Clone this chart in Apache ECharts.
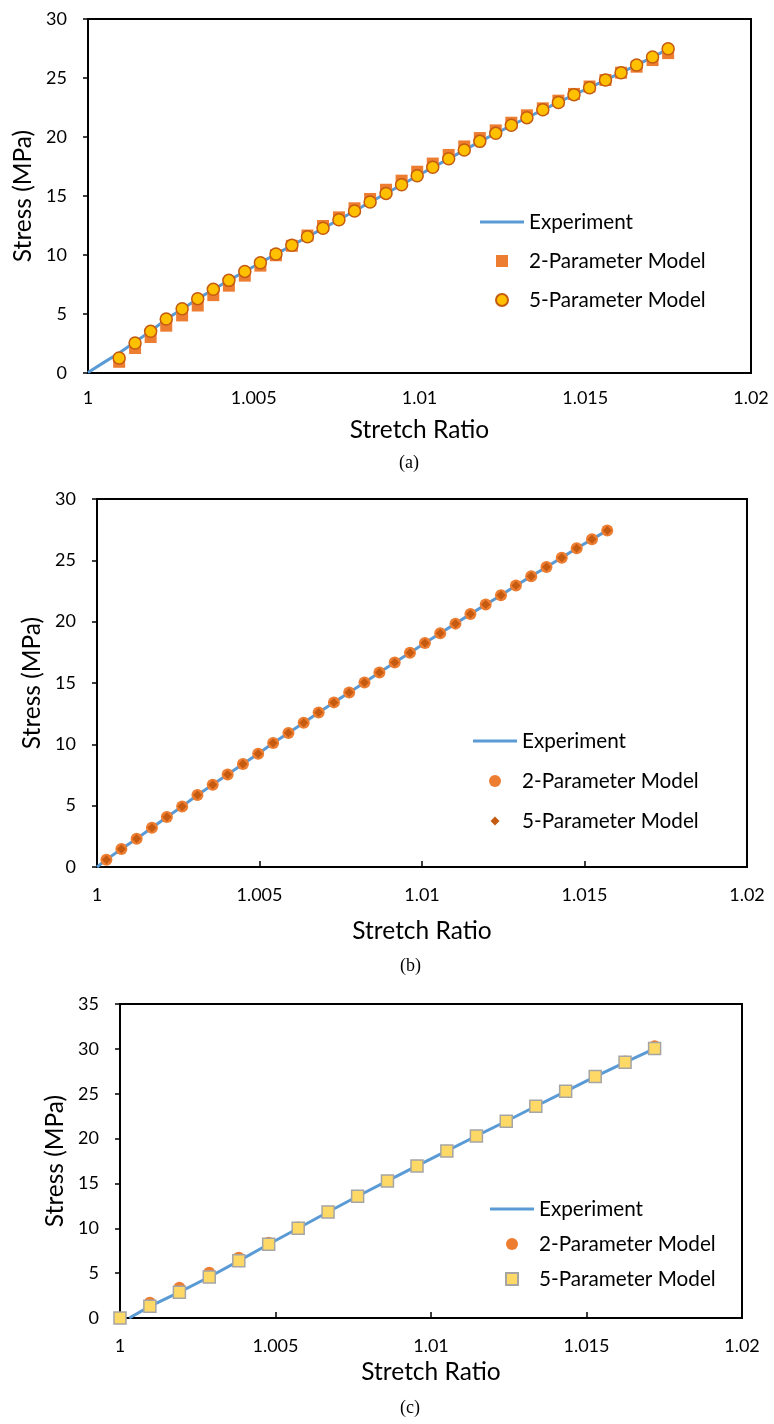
<!DOCTYPE html>
<html>
<head>
<meta charset="utf-8">
<script src="https://cdn.jsdelivr.net/npm/echarts@6/dist/echarts.min.js"></script>
<style>
  html, body { margin: 0; padding: 0; background: #fff; }
  #chart { width: 774px; height: 1424px; }
</style>
</head>
<body>
<div id="chart"></div>
<script>
// (a) stretch ratio / stress
const stretchA = [1.00094, 1.00142, 1.00189, 1.00236, 1.00284, 1.00331, 1.00378, 1.00425, 1.00473, 1.00520,
  1.00567, 1.00615, 1.00662, 1.00709, 1.00757, 1.00804, 1.00851, 1.00899, 1.00946, 1.00993,
  1.01040, 1.01088, 1.01135, 1.01182, 1.01230, 1.01277, 1.01324, 1.01372, 1.01419, 1.01466,
  1.01513, 1.01561, 1.01608, 1.01655, 1.01703, 1.01750]
const twoParamA = [0.95, 2.12, 3.05, 4.01, 4.88, 5.72, 6.60, 7.40, 8.25, 9.10,
  9.98, 10.78, 11.65, 12.46, 13.19, 13.96, 14.75, 15.53, 16.30, 17.06,
  17.75, 18.48, 19.20, 19.91, 20.56, 21.21, 21.84, 22.43, 23.08, 23.65,
  24.28, 24.83, 25.45, 25.96, 26.52, 27.11]
const fiveParamA = [1.27, 2.54, 3.53, 4.58, 5.45, 6.30, 7.09, 7.85, 8.61, 9.35,
  10.08, 10.82, 11.55, 12.26, 12.99, 13.73, 14.49, 15.22, 15.96, 16.72,
  17.43, 18.16, 18.90, 19.63, 20.31, 20.99, 21.64, 22.31, 22.93, 23.59,
  24.18, 24.83, 25.45, 26.10, 26.78, 27.48]
const expStretchA = [1.0, 1.00047, 1.00094, 1.00142, 1.00189, 1.00236, 1.00284, 1.00331, 1.00378, 1.00425,
  1.00473, 1.00520, 1.00567, 1.00615, 1.00662, 1.00709, 1.00757, 1.00804, 1.00851, 1.00899,
  1.00946, 1.00993, 1.01040, 1.01088, 1.01135, 1.01182, 1.01230, 1.01277, 1.01324, 1.01372,
  1.01419, 1.01466, 1.01513, 1.01561, 1.01608, 1.01655, 1.01703, 1.01750]
const expStressA = [0.05, 0.88, 1.69, 2.62, 3.55, 4.55, 5.42, 6.28, 7.07, 7.85,
  8.60, 9.34, 10.07, 10.81, 11.54, 12.26, 12.99, 13.73, 14.48, 15.21,
  15.95, 16.70, 17.42, 18.15, 18.89, 19.61, 20.30, 20.98, 21.63, 22.30,
  22.93, 23.58, 24.18, 24.82, 25.45, 26.09, 26.77, 27.45]

// (b)
const stretchB = [1.00029, 1.00075, 1.00122, 1.00169, 1.00215, 1.00262, 1.00309, 1.00356, 1.00402, 1.00449,
  1.00496, 1.00542, 1.00589, 1.00636, 1.00682, 1.00729, 1.00776, 1.00823, 1.00869, 1.00916,
  1.00963, 1.01009, 1.01056, 1.01103, 1.01149, 1.01196, 1.01243, 1.01289, 1.01336, 1.01383,
  1.01430, 1.01476, 1.01523, 1.01570]
const twoParamB = [0.60, 1.47, 2.31, 3.20, 4.08, 4.94, 5.87, 6.71, 7.55, 8.40,
  9.24, 10.11, 10.92, 11.76, 12.60, 13.42, 14.23, 15.05, 15.86, 16.68,
  17.47, 18.26, 19.05, 19.84, 20.63, 21.39, 22.15, 22.94, 23.70, 24.46,
  25.22, 25.98, 26.71, 27.44]
const fiveParamB = [0.60, 1.47, 2.31, 3.20, 4.08, 4.94, 5.87, 6.71, 7.55, 8.40,
  9.24, 10.11, 10.92, 11.76, 12.60, 13.42, 14.23, 15.05, 15.86, 16.68,
  17.47, 18.26, 19.05, 19.84, 20.63, 21.39, 22.15, 22.94, 23.70, 24.46,
  25.22, 25.98, 26.71, 27.44]
const expStretchB = [1.0, 1.00029, 1.00075, 1.00122, 1.00169, 1.00215, 1.00262, 1.00309, 1.00356, 1.00402,
  1.00449, 1.00496, 1.00542, 1.00589, 1.00636, 1.00682, 1.00729, 1.00776, 1.00823, 1.00869,
  1.00916, 1.00963, 1.01009, 1.01056, 1.01103, 1.01149, 1.01196, 1.01243, 1.01289, 1.01336,
  1.01383, 1.01430, 1.01476, 1.01523, 1.01570]
const expStressB = [0.0, 0.60, 1.47, 2.31, 3.20, 4.08, 4.94, 5.87, 6.71, 7.55,
  8.40, 9.24, 10.11, 10.92, 11.76, 12.60, 13.42, 14.23, 15.05, 15.86,
  16.68, 17.47, 18.26, 19.05, 19.84, 20.63, 21.39, 22.15, 22.94, 23.70,
  24.46, 25.22, 25.98, 26.71, 27.44]

// (c)
const stretchC = [1.0, 1.00096, 1.00191, 1.00287, 1.00382, 1.00478, 1.00573, 1.00669, 1.00764, 1.00860,
  1.00955, 1.01051, 1.01146, 1.01242, 1.01337, 1.01433, 1.01528, 1.01624, 1.01719]
const twoParamC = [0.0, 1.70, 3.38, 5.05, 6.72, 8.40, 10.08, 11.84, 13.60, 15.30,
  16.97, 18.64, 20.30, 21.95, 23.62, 25.30, 26.95, 28.60, 30.30]
const fiveParamC = [0.0, 1.30, 2.88, 4.57, 6.37, 8.22, 10.00, 11.82, 13.57, 15.28,
  16.95, 18.62, 20.29, 21.93, 23.60, 25.27, 26.91, 28.50, 30.03]
const expStretchC = [1.0003, 1.00096, 1.00191, 1.00287, 1.00382, 1.00478, 1.00573, 1.00669, 1.00764, 1.00860,
  1.00955, 1.01051, 1.01146, 1.01242, 1.01337, 1.01433, 1.01528, 1.01624, 1.01719]
const expStressC = [0.0, 1.30, 2.88, 4.57, 6.37, 8.22, 10.00, 11.82, 13.57, 15.28,
  16.95, 18.62, 20.29, 21.93, 23.60, 25.27, 26.91, 28.50, 30.03]

const xTicks = [1, 1.005, 1.01, 1.015, 1.02]
const yMaxes = [30, 30, 35]

const FONT = 'Lato'
const BLUE = '#5B9BD5'
const ORANGE = '#ED7D31'
const DARK_ORANGE = '#C55A11'

// legend icons (keep aspect inside the 44x12 icon box)
const LINE_ICON = 'path://M0,0h44v3h-44z'
const SQUARE_ICON = 'path://M0,0h10v10h-10z'
const DIAMOND_ICON = 'path://M0,0L0,0M12,12L12,12M6,1.5L10.5,6L6,10.5L1.5,6Z'

const pairs = (xs, ys) => xs.map((x, i) => [x, ys[i]])

const grids = [
  { left: 88, top: 19, width: 663, height: 354 },
  { left: 97, top: 499, width: 650, height: 368 },
  { left: 120, top: 1004, width: 622, height: 314 }
]

const makeX = (i, tickShow, labelMargin, nameGap) => ({
  type: 'value', gridIndex: i, min: xTicks[0], max: xTicks[xTicks.length - 1], interval: 0.005,
  axisLine: { show: true, onZero: false, lineStyle: { color: '#000', width: 2 } },
  axisTick: { show: tickShow, inside: true, length: 6, lineStyle: { color: '#000', width: 1.5 } },
  axisLabel: { color: '#000', fontSize: 18, fontFamily: FONT, margin: labelMargin,
    formatter: v => String(+v.toFixed(3)) },
  splitLine: { show: false },
  name: 'Stretch Ratio', nameLocation: 'middle', nameGap: nameGap,
  nameTextStyle: { color: '#000', fontSize: 24.5, fontFamily: FONT }
})

const makeY = (i, nameGap) => ({
  type: 'value', gridIndex: i, min: 0, max: yMaxes[i], interval: 5,
  axisLine: { show: true, onZero: false, lineStyle: { color: '#000', width: 2 } },
  axisTick: { show: true, length: 5, lineStyle: { color: '#000', width: 1.5 } },
  axisLabel: { color: '#000', fontSize: 18, fontFamily: FONT, margin: 21 },
  splitLine: { show: false },
  name: 'Stress (MPa)', nameLocation: 'middle', nameGap: nameGap,
  nameTextStyle: { color: '#000', fontSize: 24.5, fontFamily: FONT }
})

const expSeries = (i, name, xs, ys) => ({
  name: name, type: 'line', xAxisIndex: i, yAxisIndex: i,
  data: pairs(xs, ys), symbol: 'none', showSymbol: false,
  lineStyle: { color: BLUE, width: 3 }, itemStyle: { color: BLUE }, z: 2
})

const legendBase = (left, top, p, icons, itemGap) => ({
  left: left, top: top, orient: 'vertical', padding: 0, itemGap: itemGap,
  itemWidth: 44, itemHeight: 12, selectedMode: false, symbolKeepAspect: true,
  data: [
    { name: p + ':Experiment', icon: LINE_ICON },
    { name: p + ':2-Parameter Model', icon: icons[0] },
    { name: p + ':5-Parameter Model', icon: icons[1] }
  ],
  formatter: n => n.slice(2),
  textStyle: { color: '#000', fontSize: 20.7, fontFamily: FONT, lineHeight: 22 }
})

const option = {
  animation: false,
  backgroundColor: '#fff',
  grid: grids.map(g => Object.assign({ show: true, borderColor: '#000', borderWidth: 2 }, g)),
  xAxis: [makeX(0, false, 16, 45), makeX(1, true, 19, 52), makeX(2, true, 19, 42)],
  yAxis: [makeY(0, 47), makeY(1, 50), makeY(2, 52)],
  legend: [
    legendBase(480, 211, 'a', [SQUARE_ICON, 'circle'], 17),
    legendBase(473, 730, 'b', ['circle', DIAMOND_ICON], 18),
    legendBase(490, 1198, 'c', ['circle', SQUARE_ICON], 13)
  ],
  graphic: [
    { type: 'text', left: 399, top: 454, style: { text: '(a)', font: '18px "Liberation Serif"', fill: '#000' } },
    { type: 'text', left: 400, top: 957, style: { text: '(b)', font: '18px "Liberation Serif"', fill: '#000' } },
    { type: 'text', left: 400, top: 1399, style: { text: '(c)', font: '18px "Liberation Serif"', fill: '#000' } }
  ],
  series: [
    expSeries(0, 'a:Experiment', expStretchA, expStressA),
    { name: 'a:2-Parameter Model', type: 'scatter', xAxisIndex: 0, yAxisIndex: 0,
      data: pairs(stretchA, twoParamA), symbol: 'rect', symbolSize: 12,
      itemStyle: { color: ORANGE, opacity: 1 }, z: 3 },
    { name: 'a:5-Parameter Model', type: 'scatter', xAxisIndex: 0, yAxisIndex: 0,
      data: pairs(stretchA, fiveParamA), symbol: 'circle', symbolSize: 12,
      itemStyle: { color: '#FFC000', borderColor: DARK_ORANGE, borderWidth: 1.5, opacity: 1 }, z: 4 },

    expSeries(1, 'b:Experiment', expStretchB, expStressB),
    { name: 'b:2-Parameter Model', type: 'scatter', xAxisIndex: 1, yAxisIndex: 1,
      data: pairs(stretchB, twoParamB), symbol: 'circle', symbolSize: 12,
      itemStyle: { color: ORANGE, opacity: 1 }, z: 3 },
    { name: 'b:5-Parameter Model', type: 'scatter', xAxisIndex: 1, yAxisIndex: 1,
      data: pairs(stretchB, fiveParamB), symbol: 'diamond', symbolSize: 9,
      itemStyle: { color: DARK_ORANGE, opacity: 1 }, z: 4 },

    expSeries(2, 'c:Experiment', expStretchC, expStressC),
    { name: 'c:2-Parameter Model', type: 'scatter', xAxisIndex: 2, yAxisIndex: 2,
      data: pairs(stretchC, twoParamC), symbol: 'circle', symbolSize: 12,
      itemStyle: { color: ORANGE, opacity: 1 }, z: 3 },
    { name: 'c:5-Parameter Model', type: 'scatter', xAxisIndex: 2, yAxisIndex: 2,
      data: pairs(stretchC, fiveParamC), symbol: 'rect', symbolSize: 12,
      itemStyle: { color: '#FFD966', borderColor: '#A5A5A5', borderWidth: 1.5, opacity: 1 }, z: 4 }
  ]
}

const chart = echarts.init(document.getElementById('chart'))
chart.setOption(option)
</script>
</body>
</html>
